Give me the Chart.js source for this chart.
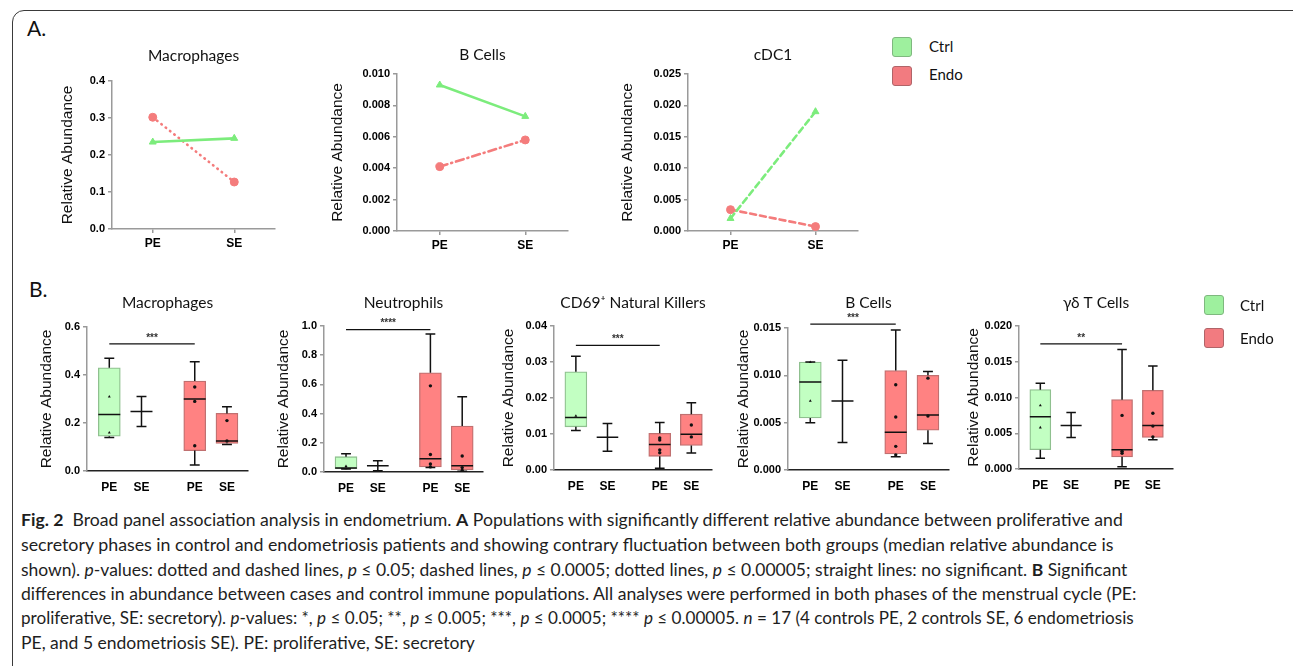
<!DOCTYPE html>
<html>
<head>
<meta charset="utf-8">
<script src="https://cdn.jsdelivr.net/npm/chart.js@4.4.1/dist/chart.umd.min.js"></script>
<style>
  body { margin: 0; width: 1293px; height: 666px; overflow: hidden; background: #fff; position: relative; font-family: Lato, sans-serif; }
  .frame { position: absolute; left: 12px; top: 10px; width: 1300px; height: 720px; border: 1px solid #3a3a3a; border-radius: 12px; }
  canvas { position: absolute; }
  .panel { position: absolute; font-size: 21px; color: #111; line-height: 1; }
  .key { position: absolute; width: 20px; height: 20px; border-radius: 3px; box-sizing: border-box; }
  .keytxt { position: absolute; font-size: 15px; color: #111; line-height: 18px; }
  .cap { position: absolute; left: 21px; font-size: 17.5px; line-height: 24px; color: #1e1e1e; white-space: nowrap; transform-origin: 0 50%; }
</style>
</head>
<body>
<div class="frame"></div>

<div class="panel" style="left:27px;top:17px">A.</div>
<div class="panel" style="left:29px;top:278px">B.</div>

<canvas id="aMacro"></canvas>
<canvas id="aBcell"></canvas>
<canvas id="aCdc1"></canvas>

<canvas id="bMacro"></canvas>
<canvas id="bNeut"></canvas>
<canvas id="bNk"></canvas>
<canvas id="bBcell"></canvas>
<canvas id="bGd"></canvas>

<!-- legends -->
<div class="key" style="left:892px;top:37px;background:#9ef09e;border:1px solid #7fb87f"></div>
<div class="keytxt" style="left:929px;top:37px">Ctrl</div>
<div class="key" style="left:892px;top:66px;background:#f27b80;border:1px solid #b06468"></div>
<div class="keytxt" style="left:929px;top:65px">Endo</div>

<div class="key" style="left:1204px;top:295px;background:#9ef09e;border:1px solid #7fb87f"></div>
<div class="keytxt" style="left:1240px;top:296px">Ctrl</div>
<div class="key" style="left:1204px;top:328px;background:#f27b80;border:1px solid #b06468"></div>
<div class="keytxt" style="left:1240px;top:329px">Endo</div>

<!-- caption -->
<div class="cap" data-w="1102" style="top:508px"><b>Fig. 2</b>&nbsp; Broad panel association analysis in endometrium. <b>A</b> Populations with significantly different relative abundance between proliferative and</div>
<div class="cap" data-w="1092" style="top:533px">secretory phases in control and endometriosis patients and showing contrary fluctuation between both groups (median relative abundance is</div>
<div class="cap" data-w="1106" style="top:558px">shown). <i>p</i>-values: dotted and dashed lines, <i>p</i> ≤ 0.05; dashed lines, <i>p</i> ≤ 0.0005; dotted lines, <i>p</i> ≤ 0.00005; straight lines: no significant. <b>B</b> Significant</div>
<div class="cap" data-w="1115" style="top:582px">differences in abundance between cases and control immune populations. All analyses were performed in both phases of the menstrual cycle (PE:</div>
<div class="cap" data-w="1113" style="top:606px">proliferative, SE: secretory). <i>p</i>-values: *, <i>p</i> ≤ 0.05; **, <i>p</i> ≤ 0.005; ***, <i>p</i> ≤ 0.0005; **** <i>p</i> ≤ 0.00005. <i>n</i> = 17 (4 controls PE, 2 controls SE, 6 endometriosis</div>
<div class="cap" style="top:631px">PE, and 5 endometriosis SE). PE: proliferative, SE: secretory</div>

<script>
// ---------- data ----------
var phases = ['PE', 'SE'];

// A. median relative abundance, [PE, SE]
var aMacroCtrl = [0.235, 0.245];
var aMacroEndo = [0.302, 0.127];
var aBcellCtrl = [0.0093, 0.0073];
var aBcellEndo = [0.0041, 0.0058];
var aCdc1Ctrl = [0.0020, 0.0190];
var aCdc1Endo = [0.0034, 0.0007];

var aMacroTicks = [0, 0.1, 0.2, 0.3, 0.4];
var aBcellTicks = [0, 0.002, 0.004, 0.006, 0.008, 0.010];
var aCdc1Ticks = [0, 0.005, 0.010, 0.015, 0.020, 0.025];

// B. boxes [min, q1, median, q3, max] for Ctrl PE, Ctrl SE, Endo PE, Endo SE
var bMacroBox = [[0.14, 0.145, 0.235, 0.43, 0.47], [0.185, 0.248, 0.248, 0.248, 0.31], [0.025, 0.085, 0.30, 0.375, 0.455], [0.11, 0.115, 0.125, 0.24, 0.268]];
var bMacroPts = [[0.31, 0.16], [], [0.35, 0.29, 0.105], [0.21, 0.125]];
var bMacroSig = [0.53, '***'];
var bMacroTicks = [0, 0.2, 0.4, 0.6];

var bNeutBox = [[0.02, 0.022, 0.028, 0.105, 0.125], [0.008, 0.043, 0.043, 0.043, 0.077], [0.03, 0.035, 0.09, 0.68, 0.945], [0.005, 0.015, 0.043, 0.315, 0.515]];
var bNeutPts = [[0.04, 0.025], [], [0.59, 0.12, 0.055, 0.035], [0.11, 0.03, 0.01]];
var bNeutSig = [0.975, '****'];
var bNeutTicks = [0, 0.2, 0.4, 0.6, 0.8, 1.0];

var bNkBox = [[0.011, 0.012, 0.0146, 0.0273, 0.0316], [0.0052, 0.0091, 0.0091, 0.0091, 0.0129], [0.0005, 0.0038, 0.0071, 0.0102, 0.0132], [0.0047, 0.0068, 0.0099, 0.0155, 0.0187]];
var bNkPts = [[0.015], [], [0.0089, 0.0083, 0.0056, 0.0048], [0.0125, 0.0092]];
var bNkSig = [0.0346, '***'];
var bNkTicks = [0, 0.01, 0.02, 0.03, 0.04];

var bBcellBox = [[0.005, 0.0055, 0.0093, 0.0114, 0.0114], [0.0029, 0.0073, 0.0073, 0.0073, 0.0116], [0.0014, 0.0017, 0.0040, 0.0105, 0.0148], [0.0028, 0.0042, 0.0058, 0.0100, 0.0104]];
var bBcellPts = [[0.0114, 0.0073], [], [0.009, 0.0056, 0.0025, 0.0016], [0.0097, 0.0057]];
var bBcellSig = [0.0154, '***'];
var bBcellTicks = [0, 0.005, 0.010, 0.015];

var bGdBox = [[0.0015, 0.0027, 0.0073, 0.0111, 0.0120], [0.0044, 0.0061, 0.0061, 0.0061, 0.0079], [0.0003, 0.0017, 0.0027, 0.0097, 0.0167], [0.0041, 0.0044, 0.0061, 0.0110, 0.0144]];
var bGdPts = [[0.0089, 0.0058], [], [0.0075, 0.0025, 0.0022], [0.0078, 0.0060, 0.0045]];
var bGdSig = [0.0175, '**'];
var bGdTicks = [0, 0.005, 0.010, 0.015, 0.020];

// ---------- look ----------
var greenLine = '#7cec7c';
var redLine = '#f47c7c';
var ctrlFill = '#c2ffc2';
var endoFill = '#ff8282';
var ctrlEdge = '#8fc08f';
var endoEdge = '#c07070';

// x positions of groups (layout, not data)
var aX = [1, 3];
var bX = [0.72, 1.76, 3.48, 4.52];
var bXMax = 5.2;

Chart.defaults.font.family = 'Liberation Sans';

// asterisks above the significance bar
var starPlugin = {
  id: 'stars',
  afterDatasetsDraw: function (chart, args, opts) {
    if (!opts.text) return;
    var ctx = chart.ctx;
    ctx.save();
    ctx.font = 'bold 10px "Liberation Sans"';
    ctx.fillStyle = '#333';
    ctx.textAlign = 'center';
    ctx.textBaseline = 'bottom';
    ctx.fillText(opts.text, chart.scales.x.getPixelForValue(opts.x), chart.scales.y.getPixelForValue(opts.y) - 1);
    ctx.restore();
  }
};
Chart.register(starPlugin);

// canvas box from wanted plot area
function place(id, g) {
  var c = document.getElementById(id);
  var p = { c: c, left: g.ytx - 14, top: g.ty - 16, right: g.x1 + 14, bottom: g.y1 + 28 };
  c.width = p.right - p.left;
  c.height = p.bottom - p.top;
  c.style.left = p.left + 'px';
  c.style.top = p.top + 'px';
  return p;
}

function baseOptions(g, p, title, yTicks, dec, xMax, xVals, xLabels, isA) {
  var ts = 15.5;
  var tPadTop = g.ty - p.top - 0.6 * ts;
  return {
    responsive: false,
    animation: false,
    layout: { padding: { left: 0, right: p.right - g.x1, top: 0, bottom: 0 } },
    plugins: {
      legend: { display: false },
      tooltip: { enabled: false },
      title: {
        display: true, text: title, fullSize: false, color: '#111',
        font: { family: 'Lato', size: ts, weight: 'normal', lineHeight: 1.2 },
        padding: { top: tPadTop, bottom: (g.y0 - p.top) - tPadTop - 1.2 * ts }
      }
    },
    scales: {
      x: {
        type: 'linear', min: 0, max: xMax, offset: false,
        afterBuildTicks: function (s) { s.ticks = xVals.map(function (v) { return { value: v }; }); },
        afterFit: function (s) { s.height = p.bottom - g.y1; },
        ticks: {
          callback: function (v, i) { return xLabels[i]; },
          color: '#000', font: { size: 12, weight: 'bold' },
          padding: isA ? 3 : 9, maxRotation: 0, autoSkip: false
        },
        grid: { display: true, offset: false, drawOnChartArea: false, drawTicks: isA, tickLength: 4, color: '#999', lineWidth: 1.5 },
        border: { color: isA ? '#9a9a9a' : '#222', width: 1.5 }
      },
      y: {
        min: 0, max: yTicks[yTicks.length - 1],
        afterBuildTicks: function (s) { s.ticks = yTicks.map(function (v) { return { value: v }; }); },
        afterFit: function (s) { s.width = g.x0 - p.left; },
        ticks: {
          callback: function (v) { return v.toFixed(dec); },
          color: '#000', font: { size: 11, weight: 'bold' }, padding: 3
        },
        grid: { display: true, drawOnChartArea: false, tickLength: 4, color: '#999', lineWidth: 1.5 },
        border: { color: '#9a9a9a', width: 1.5 },
        title: {
          display: true, text: 'Relative Abundance', color: '#111',
          font: { size: 15.5, lineHeight: 1.2 },
          padding: { top: 5, bottom: 0 }
        }
      }
    }
  };
}

function lineSet(vals, color, style, dash) {
  return {
    showLine: true,
    data: vals.map(function (v, i) { return { x: aX[i], y: v }; }),
    borderColor: color, backgroundColor: color,
    borderWidth: 2.6, borderDash: dash, borderCapStyle: 'round',
    pointStyle: style, pointRadius: 4, pointBorderWidth: 1
  };
}

function makeLineChart(id, g, title, ticks, dec, ctrl, endo, ctrlDash, endoDash) {
  var p = place(id, g);
  new Chart(p.c, {
    type: 'scatter',
    data: { datasets: [lineSet(ctrl, greenLine, 'triangle', ctrlDash), lineSet(endo, redLine, 'circle', endoDash)] },
    options: baseOptions(g, p, title, ticks, dec, 4, aX, phases, true)
  });
}

function makeBoxChart(id, g, title, ticks, dec, boxes, pts, sig) {
  var p = place(id, g);
  var unitPx = (g.x1 - g.x0) / bXMax;
  var half = 0.355, cap = 0.16;
  var fills = [ctrlFill, ctrlFill, endoFill, endoFill];
  var edges = [ctrlEdge, ctrlEdge, endoEdge, endoEdge];

  var boxData = [], boxBg = [], boxBd = [];
  var seg = [];
  function add(xa, ya, xb, yb) { seg.push({ x: xa, y: ya }, { x: xb, y: yb }, { x: xb, y: null }); }
  boxes.forEach(function (b, i) {
    var x = bX[i];
    if (b[1] !== b[3]) {
      boxData.push({ x: x, y: [b[1], b[3]] });
      boxBg.push(fills[i]);
      boxBd.push(edges[i]);
    }
    add(x, b[0], x, b[1]);
    add(x, b[3], x, b[4]);
    add(x - cap, b[0], x + cap, b[0]);
    add(x - cap, b[4], x + cap, b[4]);
    add(x - half, b[2], x + half, b[2]);
  });

  var dots = [], dotStyle = [];
  pts.forEach(function (arr, i) {
    arr.forEach(function (v) { dots.push({ x: bX[i], y: v }); dotStyle.push(i < 2 ? 'triangle' : 'circle'); });
  });

  var opts = baseOptions(g, p, title, ticks, dec, bXMax, bX, phases.concat(phases), false);
  opts.plugins.stars = { x: (bX[0] + bX[2]) / 2, y: sig[0], text: sig[1] };

  new Chart(p.c, {
    type: 'scatter',
    data: {
      datasets: [
        { data: dots, pointStyle: dotStyle, pointRadius: 1.7, backgroundColor: '#111', borderColor: '#111', borderWidth: 0 },
        { data: seg, showLine: true, borderColor: '#111', borderWidth: 1.5, pointRadius: 0 },
        { data: [{ x: bX[0], y: sig[0] }, { x: bX[2], y: sig[0] }], showLine: true, borderColor: '#111', borderWidth: 1.2, pointRadius: 0, clip: false },
        { type: 'bar', data: boxData, backgroundColor: boxBg, borderColor: boxBd, borderWidth: 1.3, borderSkipped: false, barThickness: Math.round(half * 2 * unitPx) }
      ]
    },
    options: opts
  });
}

// ---------- panel A ----------
makeLineChart('aMacro', { x0: 112, x1: 275, y0: 81, y1: 229, ty: 56, ytx: 67 }, 'Macrophages', aMacroTicks, 1,
  aMacroCtrl, aMacroEndo, [], [0.5, 5]);
makeLineChart('aBcell', { x0: 397, x1: 568, y0: 74, y1: 231, ty: 55, ytx: 337 }, 'B Cells', aBcellTicks, 3,
  aBcellCtrl, aBcellEndo, [], [8, 4, 1, 4]);
makeLineChart('aCdc1', { x0: 688, x1: 858, y0: 74, y1: 231, ty: 55, ytx: 627 }, 'cDC1', aCdc1Ticks, 3,
  aCdc1Ctrl, aCdc1Endo, [6, 4], [6, 4]);

// ---------- panel B ----------
makeBoxChart('bMacro', { x0: 87, x1: 248, y0: 327, y1: 471, ty: 303, ytx: 46 }, 'Macrophages', bMacroTicks, 1, bMacroBox, bMacroPts, bMacroSig);
makeBoxChart('bNeut', { x0: 324, x1: 483, y0: 326, y1: 472, ty: 303, ytx: 283 }, 'Neutrophils', bNeutTicks, 1, bNeutBox, bNeutPts, bNeutSig);
makeBoxChart('bNk', { x0: 554, x1: 712, y0: 326, y1: 470, ty: 303, ytx: 508 }, 'CD69⁺ Natural Killers', bNkTicks, 2, bNkBox, bNkPts, bNkSig);
makeBoxChart('bBcell', { x0: 788, x1: 949, y0: 328, y1: 470, ty: 303, ytx: 743 }, 'B Cells', bBcellTicks, 3, bBcellBox, bBcellPts, bBcellSig);
makeBoxChart('bGd', { x0: 1019, x1: 1173, y0: 326, y1: 469, ty: 303, ytx: 973 }, 'γδ T Cells', bGdTicks, 3, bGdBox, bGdPts, bGdSig);

// caption lines squeezed to the widths in the figure; the short last line gets the mean factor
function fitCaption() {
  var sum = 0, n = 0, last = null;
  document.querySelectorAll('.cap').forEach(function (el) {
    el.style.transform = 'none';
    if (!el.dataset.w) { last = el; return; }
    var f = Number(el.dataset.w) / el.scrollWidth;
    sum += f; n++;
    el.style.transform = 'scaleX(' + f + ')';
  });
  if (last) last.style.transform = 'scaleX(' + (sum / n) + ')';
}
fitCaption();
if (document.fonts) document.fonts.ready.then(fitCaption);
</script>
</body>
</html>
